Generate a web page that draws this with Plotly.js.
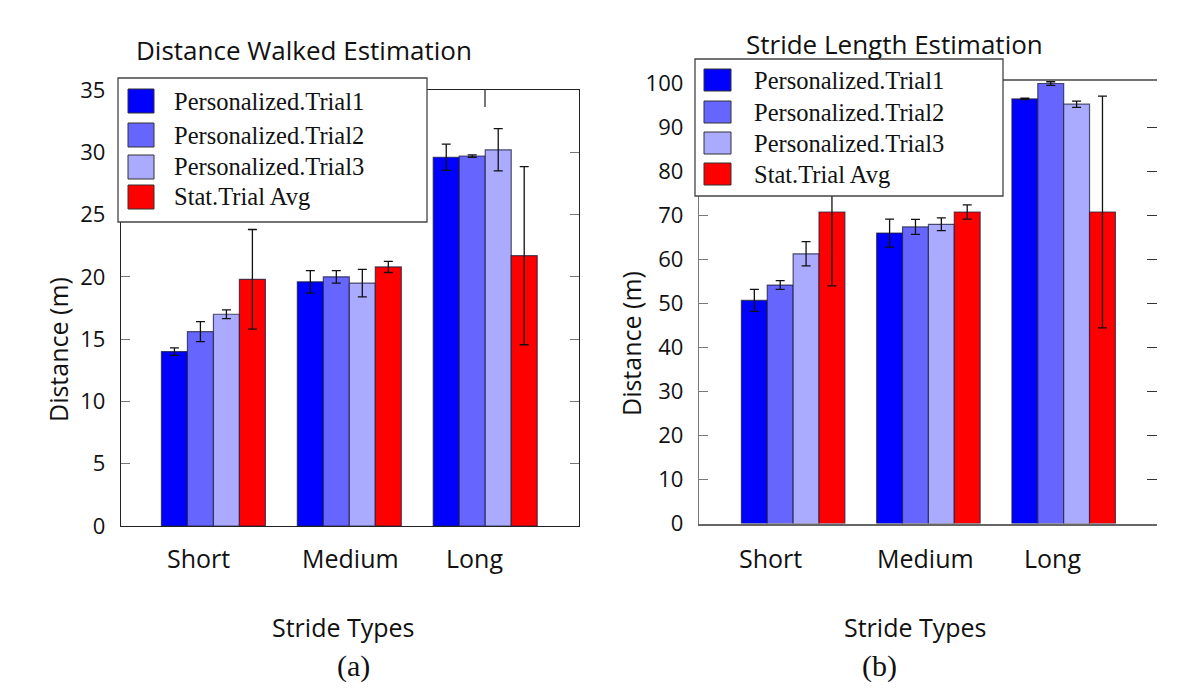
<!DOCTYPE html>
<html>
<head>
<meta charset="utf-8">
<script src="https://cdn.plot.ly/plotly-3.0.1.min.js"></script>
<style>html,body{margin:0;padding:0;background:#fff;}#chart{width:1200px;height:700px;}</style>
</head>
<body>
<div id="chart"></div>
<script>
// ---- data ----
const categories = ['Short', 'Medium', 'Long'];
const seriesNames = ['Personalized.Trial1', 'Personalized.Trial2', 'Personalized.Trial3', 'Stat.Trial Avg'];
const seriesColors = ['#0000FF', '#6666FF', '#AAAAFF', '#FF0000'];

// (a) Distance Walked Estimation
const distTrial1 = [14.0, 19.6, 29.6];
const distTrial2 = [15.6, 20.0, 29.7];
const distTrial3 = [17.0, 19.5, 30.2];
const distStat   = [19.8, 20.8, 21.7];
const distTrial1Err = [0.3, 0.9, 1.05];
const distTrial2Err = [0.8, 0.5, 0.1];
const distTrial3Err = [0.35, 1.1, 1.7];
const distStatErr   = [4.0, 0.45, 7.15];

// (b) Stride Length Estimation
const strideTrial1 = [50.7, 66.0, 96.5];
const strideTrial2 = [54.2, 67.4, 100.0];
const strideTrial3 = [61.3, 68.0, 95.3];
const strideStat   = [70.8, 70.8, 70.8];
const strideTrial1Err = [2.5, 3.2, 0.15];
const strideTrial2Err = [1.0, 1.7, 0.4];
const strideTrial3Err = [2.75, 1.45, 0.7];
const strideStatErr   = [16.8, 1.6, 26.35];

const titleA = 'Distance Walked Estimation';
const titleB = 'Stride Length Estimation';
const yTitle = 'Distance (m)';
const xTitle = 'Stride Types';
const panelA = '(a)';
const panelB = '(b)';

// ---- helpers ----
const W = 1200, H = 700;
const X = p => p / W;
const Y = p => 1 - p / H;
const sans = 'Open Sans, Liberation Sans, sans-serif';
const serif = 'Liberation Serif, Times New Roman, serif';

function makeBars(vals, errs, xa, ya) {
  return vals.map((v, i) => ({
    type: 'bar',
    x: categories,
    y: v,
    name: seriesNames[i],
    xaxis: xa, yaxis: ya,
    showlegend: false,
    marker: {color: seriesColors[i], line: {color: 'rgba(30,30,60,0.75)', width: 1.2}},
    error_y: {type: 'data', array: errs[i], color: '#111', thickness: 1.3, width: 4.5}
  }));
}

const traces = [
  ...makeBars([distTrial1, distTrial2, distTrial3, distStat],
              [distTrial1Err, distTrial2Err, distTrial3Err, distStatErr], 'x', 'y'),
  ...makeBars([strideTrial1, strideTrial2, strideTrial3, strideStat],
              [strideTrial1Err, strideTrial2Err, strideTrial3Err, strideStatErr], 'x2', 'y2'),
  // empty helper traces so that the mirrored tick axes are drawn
  {type: 'scatter', x: [], y: [], xaxis: 'x3', yaxis: 'y', showlegend: false, hoverinfo: 'skip'},
  {type: 'scatter', x: [], y: [], xaxis: 'x2', yaxis: 'y3', showlegend: false, hoverinfo: 'skip'}
];

const shapes = [];
const annotations = [];

// manual legends (boxes)
function legend(box, swX0, swX1, swH, rowYs, textX) {
  shapes.push({type: 'rect', xref: 'paper', yref: 'paper', layer: 'above',
    x0: X(box[0]), x1: X(box[2]), y0: Y(box[3]), y1: Y(box[1]),
    fillcolor: '#ffffff', line: {color: '#444', width: 1.3}});
  seriesNames.forEach((n, i) => {
    shapes.push({type: 'rect', xref: 'paper', yref: 'paper', layer: 'above',
      x0: X(swX0), x1: X(swX1), y0: Y(rowYs[i] + swH / 2), y1: Y(rowYs[i] - swH / 2),
      fillcolor: seriesColors[i], line: {color: '#333', width: 1}});
    annotations.push({xref: 'paper', yref: 'paper', x: X(textX), y: Y(rowYs[i]),
      xanchor: 'left', yanchor: 'middle', showarrow: false, text: n,
      font: {family: serif, size: 24.5, color: '#111'}});
  });
}

// right chart top frame line
shapes.push({type: 'line', xref: 'x2 domain', yref: 'y2 domain', x0: 0, x1: 1, y0: 1, y1: 1,
  line: {color: '#444', width: 1.3}, layer: 'above'});

legend([118, 78, 427, 222], 128, 154, 24, [101, 135, 167, 197], 172);
legend([695, 59, 1003, 196], 704, 731, 22, [80, 112, 143, 174], 752);

// titles and axis titles
function txt(t, x, y, size, fam, extra) {
  annotations.push(Object.assign({xref: 'paper', yref: 'paper', x: X(x), y: Y(y),
    xanchor: 'center', yanchor: 'middle', showarrow: false, text: t,
    font: {family: fam, size: size, color: '#111'}}, extra || {}));
}
txt(titleA, 304, 50, 26, sans);
txt(titleB, 894, 44, 26, sans);
txt(yTitle, 58, 350, 25, sans, {textangle: -90});
txt(yTitle, 631, 344, 25, sans, {textangle: -90});
txt(xTitle, 343, 627, 25, sans);
txt(xTitle, 915, 627, 25, sans);
txt(panelA, 353, 666, 30, serif);
txt(panelB, 880, 666, 30, serif);

// category labels (slightly shifted as in the original figure)
const catShiftA = [-0.11, 0.01, -0.08];
const catShiftB = [-0.17, -0.02, -0.08];
categories.forEach((c, i) => {
  annotations.push({xref: 'x', yref: 'paper', x: i + catShiftA[i], y: Y(558), text: c,
    xanchor: 'center', yanchor: 'middle', showarrow: false,
    font: {family: sans, size: 25, color: '#111'}});
  annotations.push({xref: 'x2', yref: 'paper', x: i + catShiftB[i], y: Y(558), text: c,
    xanchor: 'center', yanchor: 'middle', showarrow: false,
    font: {family: sans, size: 25, color: '#111'}});
});

const tickFont = {family: sans, size: 22, color: '#111'};

const layout = {
  width: W, height: H,
  margin: {l: 0, r: 0, t: 0, b: 0},
  paper_bgcolor: '#fff', plot_bgcolor: '#fff',
  barmode: 'group', bargap: 0.235, bargroupgap: 0,
  showlegend: false,
  xaxis: {domain: [X(121), X(579)], range: [-0.68, 2.69], anchor: 'y',
    showline: true, linecolor: '#222', linewidth: 1.3, mirror: true,
    ticks: '', showticklabels: false, showgrid: false, zeroline: false},
  xaxis3: {overlaying: 'x', side: 'top', anchor: 'y', type: 'linear',
    range: [-0.68, 2.69], tickvals: [0, 1, 2], ticks: 'inside', ticklen: 17,
    tickcolor: '#777', tickwidth: 1.5, showticklabels: false, showline: false,
    showgrid: false, zeroline: false},
  yaxis: {domain: [Y(526), Y(90)], range: [0, 35], dtick: 5, anchor: 'x',
    showline: true, linecolor: '#222', linewidth: 1.3, mirror: 'ticks',
    ticks: 'inside', ticklen: 9, tickcolor: '#777',
    tickfont: tickFont, ticklabelstandoff: 10, showgrid: false, zeroline: false},
  xaxis2: {domain: [X(699), X(1157)], range: [-0.696, 2.69], anchor: 'y2',
    showline: true, linecolor: '#666', linewidth: 2, ticks: '',
    showticklabels: false, showgrid: false, zeroline: false},
  yaxis2: {domain: [Y(523.5), Y(80)], range: [0, 100.8], dtick: 10, anchor: 'x2',
    showline: true, linecolor: '#777', linewidth: 1.3,
    ticks: 'inside', ticklen: 9, tickcolor: '#777',
    tickfont: tickFont, ticklabelstandoff: 10, showgrid: false, zeroline: false},
  yaxis3: {overlaying: 'y2', side: 'right', anchor: 'x2', range: [0, 100.8],
    tickvals: [10, 20, 30, 40, 50, 60, 70, 80, 90],
    ticks: 'inside', ticklen: 10, tickcolor: '#333', tickwidth: 1.5, showticklabels: false,
    showline: false, showgrid: false, zeroline: false},
  shapes: shapes,
  annotations: annotations
};

Plotly.newPlot('chart', traces, layout, {displayModeBar: false, staticPlot: true});
</script>
</body>
</html>
